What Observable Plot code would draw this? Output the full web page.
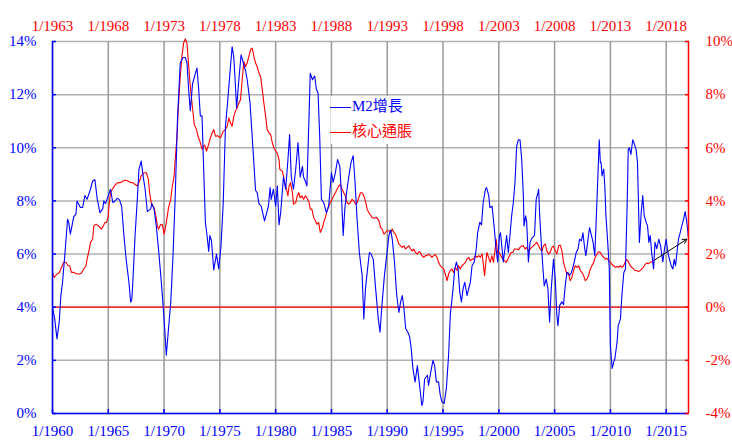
<!DOCTYPE html>
<html>
<head>
<meta charset="utf-8">
<script src="https://cdn.jsdelivr.net/npm/d3@7"></script>
<script src="https://cdn.jsdelivr.net/npm/@observablehq/plot@0.6"></script>
<style>
  html, body { margin: 0; padding: 0; background: white; }
  #wrap { position: relative; width: 732px; height: 440px; overflow: hidden; }
  .leg { position: absolute; font-family: 'Liberation Serif', 'Noto Sans CJK TC', serif; font-size: 15px; height: 20px; line-height: 20px; white-space: nowrap; }
  .leg span.sw { display: inline-block; width: 21px; height: 0; vertical-align: middle; margin-right: 1px; }
  #legbox { position: absolute; left: 331px; top: 96px; width: 88px; height: 48px; background: white; }
</style>
</head>
<body>
<div id="wrap"></div>
<script>
// M2 growth (% y/y), dated on the bottom axis
const m2Years = [1960.0,1960.2,1960.4,1960.6,1960.75,1960.9,1961.1,1961.35,1961.45,1961.6,1961.9,1962.1,1962.2,1962.5,1962.7,1962.9,1963.1,1963.4,1963.6,1963.8,1964.0,1964.25,1964.5,1964.6,1964.75,1965.0,1965.2,1965.4,1965.6,1965.8,1966.0,1966.2,1966.4,1966.6,1966.85,1967.0,1967.1,1967.2,1967.4,1967.6,1967.75,1967.95,1968.1,1968.3,1968.5,1968.8,1968.9,1969.1,1969.3,1969.5,1969.8,1970.0,1970.2,1970.3,1970.6,1970.8,1971.0,1971.2,1971.45,1971.7,1971.9,1972.05,1972.2,1972.35,1972.55,1972.8,1972.95,1973.1,1973.25,1973.4,1973.55,1973.7,1973.85,1974.0,1974.1,1974.25,1974.45,1974.7,1974.9,1975.1,1975.3,1975.5,1975.7,1975.9,1976.1,1976.25,1976.4,1976.5,1976.7,1976.9,1977.1,1977.3,1977.45,1977.7,1977.9,1978.05,1978.2,1978.35,1978.5,1978.7,1978.9,1979.0,1979.2,1979.35,1979.5,1979.6,1979.8,1980.0,1980.15,1980.3,1980.45,1980.7,1980.9,1981.1,1981.25,1981.4,1981.6,1981.8,1982.0,1982.2,1982.4,1982.5,1982.7,1982.8,1983.0,1983.1,1983.3,1983.5,1983.65,1983.8,1983.95,1984.1,1984.3,1984.55,1984.75,1985.0,1985.15,1985.35,1985.55,1985.75,1985.9,1986.05,1986.2,1986.35,1986.55,1986.75,1986.95,1987.1,1987.3,1987.5,1987.75,1987.9,1988.05,1988.2,1988.4,1988.55,1988.75,1988.96,1989.2,1989.35,1989.55,1989.75,1989.95,1990.15,1990.3,1990.45,1990.65,1990.85,1991.05,1991.2,1991.35,1991.5,1991.65,1991.85,1992.0,1992.15,1992.3,1992.5,1992.7,1992.9,1993.1,1993.2,1993.35,1993.6,1993.7,1993.9,1994.1,1994.25,1994.4,1994.6,1994.75,1994.9,1995.1,1995.3,1995.5,1995.65,1995.9,1996.05,1996.2,1996.35,1996.5,1996.65,1996.8,1996.95,1997.15,1997.3,1997.45,1997.6,1997.8,1997.98,1998.1,1998.3,1998.45,1998.6,1998.8,1998.9,1999.1,1999.2,1999.4,1999.6,1999.75,1999.9,2000.06,2000.15,2000.27,2000.4,2000.55,2000.7,2000.85,2001.0,2001.15,2001.3,2001.45,2001.6,2001.75,2001.9,2002.05,2002.2,2002.26,2002.4,2002.5,2002.65,2002.8,2002.97,2003.2,2003.35,2003.5,2003.57,2003.65,2003.8,2003.96,2004.07,2004.25,2004.4,2004.55,2004.7,2004.9,2005.06,2005.2,2005.3,2005.45,2005.65,2005.8,2005.95,2006.1,2006.2,2006.35,2006.5,2006.6,2006.76,2006.94,2007.1,2007.24,2007.4,2007.54,2007.7,2007.8,2007.96,2008.13,2008.3,2008.45,2008.6,2008.73,2008.88,2009.0,2009.1,2009.17,2009.25,2009.4,2009.5,2009.6,2009.76,2009.9,2010.0,2010.06,2010.16,2010.3,2010.4,2010.6,2010.7,2010.9,2011.03,2011.2,2011.35,2011.5,2011.6,2011.7,2011.84,2012.0,2012.1,2012.3,2012.43,2012.5,2012.6,2012.76,2012.9,2013.03,2013.2,2013.33,2013.45,2013.57,2013.7,2013.87,2014.0,2014.16,2014.34,2014.5,2014.7,2014.85,2015.0,2015.15,2015.3,2015.45,2015.6,2015.72,2015.84,2016.0,2016.1,2016.25,2016.4,2016.55,2016.7,2016.85,2017.0];
const m2Values = [4.0,3.56,2.81,3.44,4.44,4.94,5.94,7.31,7.2,6.75,7.4,7.5,8.0,7.75,7.75,8.2,8.06,8.44,8.75,8.8,8.1,7.56,7.7,8.0,7.9,8.2,8.44,7.94,8.0,8.1,8.05,7.8,6.7,5.8,4.94,4.2,4.25,4.94,6.7,8.06,9.2,9.5,9.0,8.44,7.6,7.7,7.9,7.7,7.06,6.2,4.7,3.56,2.19,2.7,4.2,5.94,8.2,11.06,13.2,13.4,13.4,13.2,12.2,11.4,12.4,12.8,13.0,12.2,11.2,11.2,9.2,7.2,6.7,6.1,6.7,6.5,5.4,6.0,5.44,6.3,7.9,10.8,11.75,12.8,13.8,13.4,12.3,11.5,12.56,13.5,13.2,12.9,12.56,11.7,10.4,9.4,8.4,8.3,7.9,7.8,7.44,7.25,7.56,7.8,8.5,8.06,8.44,7.8,8.56,7.1,7.56,8.9,8.44,9.56,10.5,8.9,8.44,9.2,10.2,8.9,9.3,8.9,8.7,8.56,11.3,12.8,12.56,12.7,12.2,12.06,10.4,8.06,7.94,7.56,7.8,9.06,8.7,9.06,9.56,9.3,8.2,6.7,7.7,8.3,8.9,9.44,9.7,8.8,7.3,6.06,5.2,3.56,4.7,5.3,6.06,6.0,5.8,4.7,3.56,3.06,4.2,5.2,5.94,6.7,6.9,6.56,5.7,4.44,3.8,4.2,4.44,3.94,3.2,3.06,2.9,2.44,1.7,1.19,1.8,1.06,0.3,0.44,1.3,1.44,1.06,1.56,2.0,1.8,1.19,1.19,0.7,0.44,0.38,0.94,2.2,3.7,4.7,5.44,5.7,5.44,4.56,4.2,4.7,4.94,4.44,4.7,4.94,5.56,5.7,6.2,6.8,7.2,7.1,7.94,8.44,8.5,8.2,7.75,7.8,6.94,6.2,5.7,6.7,6.8,6.3,5.7,6.2,6.7,6.06,6.7,7.44,7.94,8.7,10.06,10.3,10.3,9.56,8.2,7.06,7.44,7.2,5.7,6.44,6.6,6.7,8.06,8.3,8.44,7.56,6.44,5.44,4.8,5.06,4.7,3.44,4.7,5.8,5.06,3.7,3.3,4.06,4.2,4.1,4.8,5.3,5.3,5.2,5.3,5.44,5.7,6.06,6.2,6.56,6.5,6.8,6.2,5.94,6.44,7.0,6.7,6.44,5.94,7.3,8.94,10.3,9.44,9.44,8.94,9.2,8.56,7.44,6.44,5.44,2.56,2.19,1.7,1.94,2.06,2.7,3.3,3.56,4.44,5.3,5.44,7.8,9.94,10.0,9.75,10.3,10.2,9.94,9.44,8.2,6.44,7.56,8.2,7.44,7.2,7.06,6.44,6.7,6.06,5.44,6.44,6.2,6.56,6.3,5.7,6.2,6.56,6.06,5.8,5.56,5.44,5.8,5.56,6.2,6.56,6.8,7.06,7.3,7.6,7.2,6.6];

// Core inflation (% y/y), real dates (top axis)
const coreYears = [1963.0,1963.15,1963.4,1963.6,1963.75,1964.0,1964.2,1964.4,1964.55,1964.7,1964.9,1965.2,1965.4,1965.6,1965.8,1966.0,1966.1,1966.3,1966.4,1966.6,1966.7,1966.9,1967.1,1967.25,1967.4,1967.55,1967.7,1967.85,1968.0,1968.06,1968.2,1968.45,1968.65,1968.86,1969.1,1969.34,1969.55,1969.76,1970.0,1970.2,1970.4,1970.6,1970.74,1970.95,1971.2,1971.4,1971.6,1971.7,1971.87,1972.1,1972.26,1972.4,1972.5,1972.7,1972.85,1973.0,1973.1,1973.27,1973.4,1973.6,1973.7,1973.9,1974.0,1974.16,1974.3,1974.45,1974.6,1974.75,1974.9,1975.05,1975.14,1975.3,1975.44,1975.6,1975.7,1975.9,1976.04,1976.25,1976.4,1976.5,1976.65,1976.8,1976.99,1977.1,1977.3,1977.45,1977.6,1977.8,1978.06,1978.3,1978.5,1978.66,1978.8,1978.95,1979.1,1979.25,1979.4,1979.55,1979.7,1979.85,1980.0,1980.15,1980.3,1980.45,1980.6,1980.75,1980.9,1981.05,1981.2,1981.35,1981.5,1981.65,1981.8,1981.94,1982.1,1982.24,1982.4,1982.55,1982.7,1982.84,1983.0,1983.13,1983.3,1983.37,1983.6,1983.7,1983.8,1983.97,1984.1,1984.2,1984.33,1984.5,1984.6,1984.8,1984.93,1985.07,1985.2,1985.37,1985.5,1985.67,1985.83,1986.0,1986.1,1986.25,1986.4,1986.57,1986.7,1986.85,1987.0,1987.2,1987.3,1987.46,1987.6,1987.76,1987.9,1988.06,1988.2,1988.36,1988.5,1988.66,1988.8,1988.96,1989.1,1989.25,1989.4,1989.55,1989.7,1989.85,1990.0,1990.15,1990.3,1990.45,1990.6,1990.75,1990.9,1991.04,1991.2,1991.34,1991.5,1991.64,1991.8,1992.05,1992.26,1992.4,1992.55,1992.7,1992.85,1993.0,1993.15,1993.3,1993.45,1993.6,1993.74,1993.9,1994.04,1994.2,1994.34,1994.5,1994.64,1994.78,1994.93,1995.1,1995.23,1995.38,1995.53,1995.7,1995.83,1995.98,1996.1,1996.27,1996.42,1996.57,1996.72,1996.87,1997.0,1997.17,1997.3,1997.46,1997.6,1997.76,1997.9,1998.06,1998.2,1998.36,1998.5,1998.65,1998.8,1998.95,1999.1,1999.25,1999.4,1999.55,1999.7,1999.85,2000.0,2000.14,2000.3,2000.44,2000.6,2000.75,2000.9,2001.04,2001.2,2001.35,2001.5,2001.63,2001.72,2001.84,2001.93,2002.08,2002.23,2002.38,2002.52,2002.67,2002.76,2002.88,2003.03,2003.18,2003.36,2003.5,2003.65,2003.8,2003.95,2004.1,2004.25,2004.4,2004.6,2004.75,2004.9,2005.05,2005.2,2005.35,2005.5,2005.65,2005.8,2005.95,2006.1,2006.27,2006.4,2006.57,2006.7,2006.87,2007.0,2007.16,2007.3,2007.46,2007.6,2007.76,2007.9,2008.06,2008.2,2008.36,2008.5,2008.66,2008.8,2008.96,2009.1,2009.25,2009.4,2009.55,2009.7,2009.85,2010.0,2010.15,2010.3,2010.45,2010.6,2010.75,2010.9,2011.04,2011.2,2011.34,2011.5,2011.64,2011.8,2011.94,2012.1,2012.25,2012.4,2012.54,2012.7,2012.84,2013.0,2013.13,2013.28,2013.43,2013.58,2013.73,2013.88,2014.03,2014.18,2014.33,2014.48,2014.63,2014.78,2014.93,2015.07,2015.22,2015.37,2015.52,2015.67,2015.82,2015.97,2016.12,2016.27,2016.42,2016.57,2016.72,2016.87,2017.01];
const coreValues = [1.31,1.12,1.25,1.3,1.44,1.69,1.69,1.56,1.56,1.31,1.31,1.25,1.25,1.29,1.44,1.56,1.81,2.19,2.44,2.56,3.06,3.12,3.06,3.0,2.94,3.06,3.19,3.19,3.44,3.81,4.31,4.5,4.62,4.69,4.69,4.75,4.79,4.75,4.69,4.69,4.62,4.56,4.69,4.94,5.06,5.06,4.81,4.31,3.88,3.75,3.44,3.06,2.94,3.12,3.1,2.75,2.94,3.38,3.75,4.06,4.44,4.94,5.56,6.44,7.69,8.69,9.44,9.94,10.1,9.94,9.44,8.56,7.94,7.31,6.88,6.69,6.44,6.19,5.94,6.06,6.1,5.88,6.12,6.31,6.55,6.69,6.44,6.45,6.38,6.62,6.69,6.81,7.12,6.94,6.81,7.19,7.38,7.5,7.69,7.81,8.56,9.25,9.06,9.2,9.44,9.69,9.75,9.44,9.19,9.05,8.81,8.69,8.19,7.69,7.19,6.69,6.56,6.5,6.19,6.0,5.88,5.81,5.56,5.19,5.12,4.94,4.69,4.44,4.19,4.56,4.69,4.31,3.88,3.94,4.19,4.31,4.12,4.19,4.06,4.19,4.09,3.94,3.69,3.69,3.38,3.25,3.12,3.19,2.81,3.0,3.19,3.38,3.62,3.81,3.94,4.06,4.19,4.31,4.44,4.56,4.62,4.44,4.31,4.19,3.94,3.88,3.94,4.06,4.0,3.88,3.94,4.12,4.31,4.31,4.19,4.0,3.69,3.56,3.47,3.38,3.35,3.38,3.25,3.0,2.94,2.75,2.81,2.88,2.88,2.81,2.94,2.81,2.75,2.56,2.38,2.31,2.25,2.31,2.19,2.25,2.31,2.19,2.12,2.19,2.06,2.0,2.09,2.06,1.94,1.88,1.94,1.94,2.0,1.94,1.88,1.94,1.98,1.88,1.69,1.56,1.5,1.44,1.25,1.0,1.25,1.38,1.44,1.31,1.5,1.38,1.56,1.44,1.56,1.62,1.69,1.81,1.88,1.75,1.81,1.81,1.94,1.88,1.94,1.88,2.0,1.56,1.19,1.69,2.06,1.88,1.69,1.94,1.69,2.19,2.56,2.06,2.06,1.94,1.81,1.75,1.69,1.79,1.94,2.06,2.06,2.19,2.19,2.16,2.25,2.31,2.31,2.19,2.25,2.12,2.19,2.25,2.31,2.38,2.44,2.31,2.19,2.12,2.31,2.38,2.12,2.0,2.06,2.25,2.31,2.12,2.0,2.31,2.34,2.12,1.69,1.44,1.25,1.25,1.0,1.12,1.38,1.56,1.5,1.56,1.38,1.31,1.19,1.0,1.06,1.19,1.44,1.56,1.69,1.88,2.0,2.09,2.06,1.94,1.88,1.81,1.84,1.75,1.69,1.62,1.56,1.5,1.53,1.5,1.56,1.5,1.56,1.71,1.79,1.69,1.56,1.5,1.44,1.38,1.38,1.34,1.38,1.44,1.5,1.62,1.66,1.64,1.69,1.71,1.75,1.79];

const coreLagYears = 3;            // core inflation shifted 3 years earlier
const bottomTicks = [1960,1965,1970,1975,1980,1985,1990,1995,2000,2005,2010,2015];
const leftTicks = [0,2,4,6,8,10,12,14];       // M2 growth %
const rightTicks = [-4,-2,0,2,4,6,8,10];      // core inflation %
const coreOffset = leftTicks[0] - rightTicks[0];
const xDomain = [1960, 2017];
const labels = {m2: "M2增長", core: "核心通脹"};

const BLUE = "#0000ff", RED = "#ff0000";

const m2 = m2Years.map((x, i) => ({x, y: m2Values[i]}));
const core = coreYears.map((x, i) => ({x: x - coreLagYears, y: coreValues[i] + coreOffset}));
const arrowData = [{x1: core[core.length - 1].x, y1: core[core.length - 1].y, x2: m2[m2.length - 1].x, y2: m2[m2.length - 1].y}];

const chart = Plot.plot({
  width: 732,
  height: 440,
  marginLeft: 52,
  marginRight: 44,
  marginTop: 41,
  marginBottom: 27,
  style: {fontFamily: "'Liberation Serif', 'Times New Roman', serif", fontSize: "15px", background: "white", overflow: "visible"},
  x: {domain: xDomain, type: "linear"},
  y: {domain: [leftTicks[0], leftTicks[leftTicks.length - 1]]},
  marks: [
    Plot.ruleY(leftTicks, {stroke: "#b0b0b0", strokeWidth: 1.5}),
    Plot.ruleX(bottomTicks, {stroke: "#999", strokeWidth: 1.5}),
    Plot.ruleY([0], {y: d => d + coreOffset, stroke: RED, strokeWidth: 1.2}),
    Plot.line(core, {x: "x", y: "y", stroke: RED, strokeWidth: 1.1}),
    Plot.line(m2, {x: "x", y: "y", stroke: BLUE, strokeWidth: 1.1}),
    Plot.ruleX([xDomain[0]], {stroke: BLUE, strokeWidth: 1.5}),
    Plot.ruleX([xDomain[1]], {stroke: RED, strokeWidth: 1.5}),
    Plot.ruleY([leftTicks[0]], {stroke: BLUE, strokeWidth: 1.5}),
    Plot.arrow(arrowData, {x1: "x1", y1: "y1", x2: "x2", y2: "y2", stroke: "black", strokeWidth: 1, headLength: 7, insetEnd: 2}),
    Plot.axisY(leftTicks, {anchor: "left", color: BLUE, tickSize: -4, tickPadding: 20, strokeWidth: 1.5, tickFormat: d => d + "%", fontSize: 15}),
    Plot.axisY(leftTicks, {anchor: "right", color: RED, tickSize: -4, tickPadding: 21, strokeWidth: 1.5, tickFormat: d => (d - coreOffset) + "%", fontSize: 15}),
    Plot.axisX(bottomTicks, {anchor: "bottom", color: BLUE, tickSize: -4, tickPadding: 16, strokeWidth: 1.5, tickFormat: d => "1/" + d, fontSize: 15}),
    Plot.axisX(bottomTicks, {anchor: "top", color: RED, tickSize: 0, tickPadding: 11, tickFormat: d => "1/" + (d + coreLagYears), fontSize: 15})
  ]
});

const wrap = document.getElementById("wrap");
wrap.appendChild(chart);

const box = document.createElement("div");
box.id = "legbox";
wrap.appendChild(box);

function legRow(top, color, text) {
  const d = document.createElement("div");
  d.className = "leg";
  d.style.left = "330px";
  d.style.top = top + "px";
  d.style.color = color;
  const sw = document.createElement("span");
  sw.className = "sw";
  sw.style.borderTop = "1px solid " + color;
  d.appendChild(sw);
  d.appendChild(document.createTextNode(text));
  wrap.appendChild(d);
}
legRow(96, BLUE, labels.m2);
legRow(121, RED, labels.core);
</script>
</body>
</html>
